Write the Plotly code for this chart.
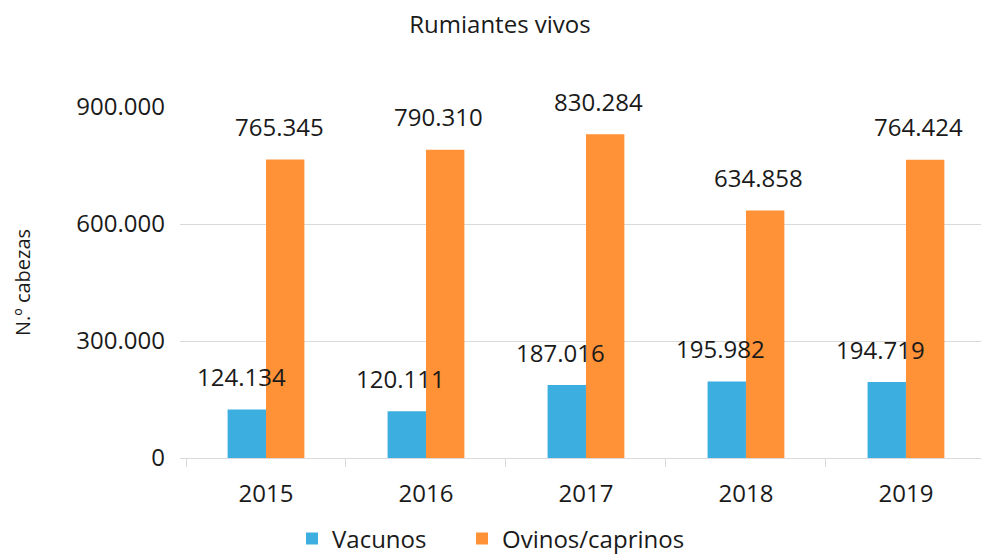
import plotly.graph_objects as go

# Livestock counts (heads) per year
years = ["2015", "2016", "2017", "2018", "2019"]
vacunos = [124134, 120111, 187016, 195982, 194719]
ovinos_caprinos = [765345, 790310, 830284, 634858, 764424]

series_names = ["Vacunos", "Ovinos/caprinos"]
colors = ["#3DAEE0", "#FF9136"]
legend_ids = ["legend", "legend2"]
y_ticks = [0, 300000, 600000, 900000]
y_tick_text = ["0", "300.000", "600.000", "900.000"]

FONT = "Open Sans"
TXT = "#1a1a1a"


def fmt(v):
    return f"{v:,}".replace(",", ".")


fig = go.Figure()
for name, vals, col, lg in zip(series_names, [vacunos, ovinos_caprinos], colors, legend_ids):
    fig.add_trace(go.Bar(
        x=years, y=vals, name=name, legend=lg,
        marker=dict(color=col, line=dict(width=0)),
    ))

# value labels above each bar (offset half a bar width within the group)
bar_half = 19
for k, vals in enumerate([vacunos, ovinos_caprinos]):
    side = -1 if k == 0 else 1
    for i, v in enumerate(vals):
        fig.add_annotation(
            x=i, y=v, text=fmt(v), showarrow=False,
            xref="x", yref="y",
            xanchor="center", yanchor="middle",
            xshift=side * bar_half - 6, yshift=33,
            font=dict(family=FONT, size=24, color=TXT),
        )

legend_style = dict(
    orientation="h", xref="container", xanchor="left",
    y=16 / 555, yref="container", yanchor="middle",
    font=dict(family=FONT, size=24, color=TXT),
    itemwidth=30, bgcolor="rgba(0,0,0,0)",
)

fig.update_layout(
    width=981, height=555,
    margin=dict(l=180, r=0, t=107, b=97, autoexpand=False),
    paper_bgcolor="white", plot_bgcolor="white",
    barmode="group", bargap=0.52, bargroupgap=0,
    font=dict(family=FONT, size=24, color=TXT),
    title=dict(
        text="Rumiantes vivos", x=500 / 981, xanchor="center",
        y=1 - 25 / 555, yanchor="middle", yref="container",
        font=dict(family=FONT, size=24, color=TXT),
    ),
    showlegend=True,
    legend=dict(x=292 / 981, **legend_style),
    legend2=dict(x=462 / 981, **legend_style),
    xaxis=dict(
        type="category", range=[-0.5375, 4.469],
        showgrid=False, showline=True, linecolor="#D9D9D9", linewidth=1,
        ticks="outside", tickson="boundaries", ticklen=8,
        tickcolor="#D9D9D9", tickwidth=1,
        tickfont=dict(family=FONT, size=24, color=TXT),
        ticklabelstandoff=14,
    ),
    yaxis=dict(
        range=[0, 900000], tickvals=y_ticks, ticktext=y_tick_text,
        showgrid=True, gridcolor="#D9D9D9", gridwidth=1,
        showline=False, zeroline=False, ticks="",
        tickfont=dict(family=FONT, size=24, color=TXT),
        ticklabelstandoff=14,
        title=dict(text="N.º cabezas", standoff=40,
                   font=dict(family=FONT, size=20, color=TXT)),
    ),
)

fig.write_html("out.html")
